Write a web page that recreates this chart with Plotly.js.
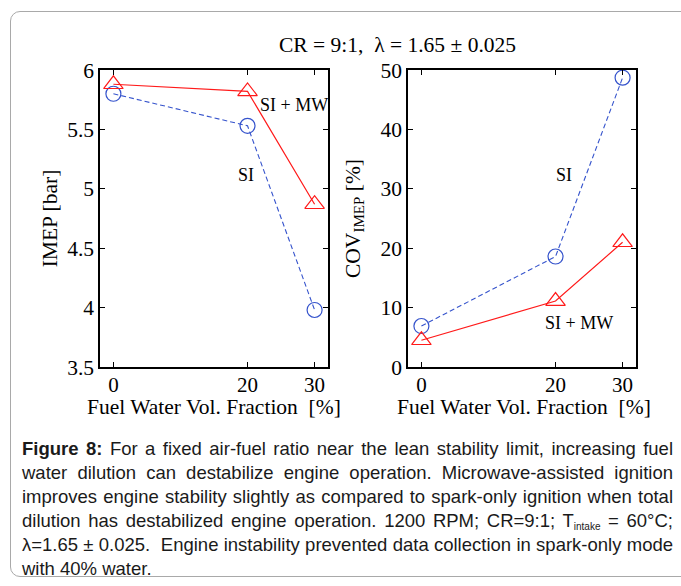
<!DOCTYPE html>
<html>
<head>
<meta charset="utf-8">
<script src="https://cdn.plot.ly/plotly-3.0.1.min.js"></script>
<style>
  html, body { margin: 0; padding: 0; width: 681px; height: 586px; overflow: hidden; background: #fff; }
  #card { position: absolute; left: 10px; top: 11px; width: 740px; height: 566px; border: 1px solid #a9a9a9; border-radius: 10px; box-sizing: border-box; }
  #chart { position: absolute; left: 0; top: 0; width: 681px; height: 586px; }
  #caption { position: absolute; left: 22px; top: 437px; width: 651px; font-family: "Liberation Sans", Arial, sans-serif; font-size: 18.5px; line-height: 24px; color: #1a1a1a; }
  #caption div { text-align: justify; text-align-last: justify; }
  #caption div.last { text-align: left; text-align-last: left; }
  #caption sub { font-size: 10px; vertical-align: -3px; line-height: 0; }
</style>
</head>
<body>
<div id="card"></div>
<div id="chart"></div>
<div id="caption">
  <div><b>Figure 8:</b> For a fixed air-fuel ratio near the lean stability limit, increasing fuel</div>
  <div>water dilution can destabilize engine operation. Microwave-assisted ignition</div>
  <div>improves engine stability slightly as compared to spark-only ignition when total</div>
  <div>dilution has destabilized engine operation. 1200 RPM; CR=9:1; T<sub>intake</sub> = 60°C;</div>
  <div>λ=1.65 ± 0.025.&nbsp; Engine instability prevented data collection in spark-only mode</div>
  <div class="last">with 40% water.</div>
</div>
<script>
// ---- data ----
const waterFraction = [0, 20, 30];
const xTickVals = [0, 20, 30];
const imepSI = [5.80, 5.53, 3.98];
const imepSIMW = [5.88, 5.82, 4.87];
const covSI = [6.9, 18.6, 48.7];
const covSIMW = [4.5, 11.1, 21.0];
const seriesNames = ["SI", "SI + MW"];
const xTitle = "Fuel Water Vol. Fraction\u00a0 [%]";

// ---- styling ----
const serif = "Liberation Serif, Times New Roman, serif";
const red = "#ff1a1a";
const blue = "#3553cc";

function siTrace(y, xa, ya) {
  return {
    x: waterFraction, y: y, xaxis: xa, yaxis: ya, name: seriesNames[0],
    mode: "lines+markers",
    line: { color: blue, width: 1.1, dash: "5px,3px" },
    marker: { symbol: "circle-open", size: 15, color: blue, line: { width: 1.2, color: blue } },
    showlegend: false, hoverinfo: "skip"
  };
}
function mwTrace(y, xa, ya) {
  return {
    x: waterFraction, y: y, xaxis: xa, yaxis: ya, name: seriesNames[1],
    mode: "lines+markers",
    line: { color: red, width: 1.2 },
    marker: { symbol: "triangle-up-open", size: 17, color: red, line: { width: 1.2, color: red } },
    showlegend: false, hoverinfo: "skip"
  };
}

const traces = [
  siTrace(imepSI, "x", "y"),
  mwTrace(imepSIMW, "x", "y"),
  siTrace(covSI, "x2", "y2"),
  mwTrace(covSIMW, "x2", "y2")
];

const W = 681, H = 586;
const axisCommon = {
  showline: true, linecolor: "#000", linewidth: 1.6, mirror: "ticks",
  ticks: "inside", ticklen: 5, tickwidth: 1, tickcolor: "#000",
  showgrid: false, zeroline: false,
  tickfont: { family: serif, size: 21.5, color: "#000" }
};
const xTickFont = { family: serif, size: 21, color: "#000" };
const yDomain = [1 - 367 / H, 1 - 70 / H];
const titleFont = { family: serif, size: 21.5, color: "#000" };
const labelFont = { family: serif, size: 18, color: "#000" };

const layout = {
  width: W, height: H,
  margin: { l: 0, r: 0, t: 0, b: 0 },
  paper_bgcolor: "rgba(0,0,0,0)",
  plot_bgcolor: "#fff",
  showlegend: false,
  xaxis: Object.assign({}, axisCommon, {
    domain: [100 / W, 328 / W], range: [-2, 32], tickvals: xTickVals, anchor: "y",
    ticklabelstandoff: -2, tickfont: xTickFont
  }),
  yaxis: Object.assign({}, axisCommon, {
    domain: yDomain, range: [3.5, 6], dtick: 0.5, anchor: "x",
    title: { text: "IMEP [bar]", font: titleFont, standoff: 3 }
  }),
  xaxis2: Object.assign({}, axisCommon, {
    domain: [408 / W, 636 / W], range: [-2, 32], tickvals: xTickVals, anchor: "y2",
    ticklabelstandoff: -2, tickfont: xTickFont
  }),
  yaxis2: Object.assign({}, axisCommon, {
    domain: yDomain, range: [0, 50], dtick: 10, anchor: "x2",
    title: { text: "COV<sub>IMEP</sub> [%]", font: titleFont, standoff: 14 }
  }),
  annotations: [
    { xref: "paper", yref: "paper", x: 397 / W, y: 1 - 45 / H, xanchor: "center", yanchor: "middle",
      text: "CR = 9:1,\u00a0 λ = 1.65 ± 0.025", showarrow: false, font: titleFont },
    { xref: "paper", yref: "paper", x: 214 / W, y: 1 - 407 / H, xanchor: "center", yanchor: "middle",
      text: xTitle, showarrow: false, font: titleFont },
    { xref: "paper", yref: "paper", x: 524 / W, y: 1 - 407 / H, xanchor: "center", yanchor: "middle",
      text: xTitle, showarrow: false, font: titleFont },
    { xref: "x", yref: "y", x: 27, y: 5.705, text: seriesNames[1], showarrow: false, font: labelFont },
    { xref: "x", yref: "y", x: 19.7, y: 5.12, text: seriesNames[0], showarrow: false, font: labelFont },
    { xref: "x2", yref: "y2", x: 21.3, y: 32.3, text: seriesNames[0], showarrow: false, font: labelFont },
    { xref: "x2", yref: "y2", x: 23.5, y: 7.4, text: seriesNames[1], showarrow: false, font: labelFont }
  ]
};

Plotly.newPlot("chart", traces, layout, { displayModeBar: false, staticPlot: true });
</script>
</body>
</html>
